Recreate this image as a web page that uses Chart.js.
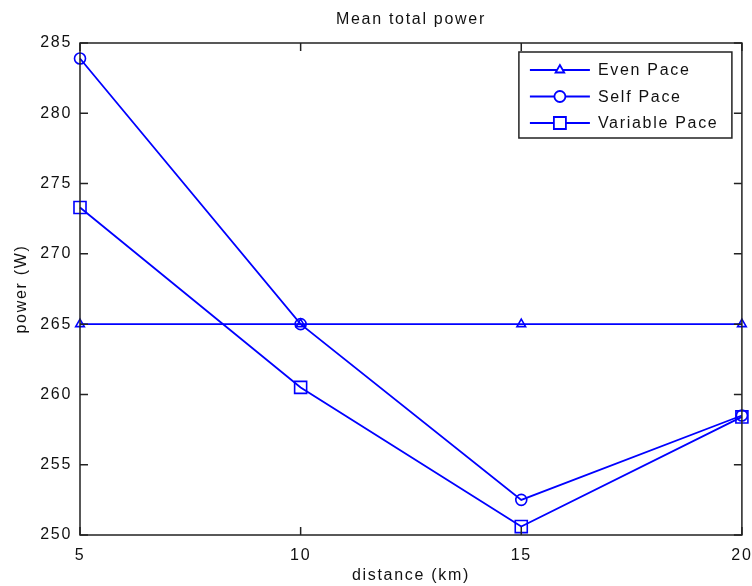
<!DOCTYPE html>
<html>
<head>
<meta charset="utf-8">
<script src="https://cdn.jsdelivr.net/npm/chart.js@4/dist/chart.umd.min.js"></script>
<style>
  html, body { margin: 0; padding: 0; background: #fff; }
  #wrap { width: 752px; height: 586px; }
</style>
</head>
<body>
<div id="wrap"><canvas id="powerChart" width="752" height="586"></canvas></div>
<script>
"use strict";

// distances (km)
const distances = [5, 10, 15, 20];

// mean total power (W) for each pacing strategy
const evenPace = [265, 265, 265, 265];
const selfPace = [283.9, 265, 252.5, 258.5];
const variablePace = [273.3, 260.5, 250.6, 258.4];

const seriesNames = ["Even Pace", "Self Pace", "Variable Pace"];
const yTicks = [250, 255, 260, 265, 270, 275, 280, 285];
const xTicks = [5, 10, 15, 20];
const chartTitle = "Mean total power";

const BLUE = "#0000FF";
const FONT = "'Liberation Sans', Arial, sans-serif";
const SPACING = "1.7px";

function toPoints(values) {
    return distances.map((d, i) => ({ x: d, y: values[i] }));
}

// the old MATLAB export has wide letter spacing
const wideText = {
    id: "wideText",
    beforeLayout(chart) { chart.ctx.letterSpacing = SPACING; },
    beforeDraw(chart) { chart.ctx.letterSpacing = SPACING; }
};

// MATLAB style box, inward ticks, title and boxed legend
const matlabFrame = {
    id: "matlabFrame",
    afterDatasetsDraw(chart) {
        const ctx = chart.ctx;
        const area = chart.chartArea;
        const xs = chart.scales.x;
        const ys = chart.scales.y;
        const tick = 8;

        ctx.save();
        ctx.letterSpacing = SPACING;
        ctx.strokeStyle = "#222";
        ctx.lineWidth = 1.5;
        ctx.strokeRect(area.left, area.top, area.right - area.left, area.bottom - area.top);

        ctx.beginPath();
        xTicks.forEach(v => {
            const px = xs.getPixelForValue(v);
            ctx.moveTo(px, area.bottom);
            ctx.lineTo(px, area.bottom - tick);
            ctx.moveTo(px, area.top);
            ctx.lineTo(px, area.top + tick);
        });
        yTicks.forEach(v => {
            const py = ys.getPixelForValue(v);
            ctx.moveTo(area.left, py);
            ctx.lineTo(area.left + tick, py);
            ctx.moveTo(area.right, py);
            ctx.lineTo(area.right - tick, py);
        });
        ctx.stroke();

        // title, centred over the axes
        ctx.font = "16px " + FONT;
        ctx.fillStyle = "#111";
        ctx.textAlign = "center";
        ctx.textBaseline = "middle";
        ctx.fillText(chartTitle, (area.left + area.right) / 2, 20);

        // legend box
        const boxW = 213;
        const boxH = 86;
        const bx = area.right - 10 - boxW;
        const by = area.top + 9;
        ctx.fillStyle = "#fff";
        ctx.fillRect(bx, by, boxW, boxH);
        ctx.strokeRect(bx, by, boxW, boxH);

        chart.data.datasets.forEach((ds, i) => {
            const rowY = by + 18 + i * 26.5;
            ctx.strokeStyle = ds.borderColor;
            ctx.lineWidth = ds.borderWidth;
            ctx.beginPath();
            ctx.moveTo(bx + 11, rowY);
            ctx.lineTo(bx + 71, rowY);
            ctx.stroke();
            ctx.fillStyle = "#fff";
            Chart.helpers.drawPoint(ctx, {
                pointStyle: ds.pointStyle,
                radius: ds.pointRadius,
                borderWidth: 1.5
            }, bx + 41, rowY);
            ctx.fillStyle = "#111";
            ctx.textAlign = "left";
            ctx.fillText(ds.label, bx + 79, rowY + 1);
        });
        ctx.restore();
    }
};

function makeDataset(label, values, style, radius) {
    return {
        label: label,
        data: toPoints(values),
        borderColor: BLUE,
        backgroundColor: "rgba(0,0,0,0)",
        borderWidth: 1.8,
        pointStyle: style,
        pointRadius: radius,
        pointBorderWidth: 1.6,
        pointBorderColor: BLUE,
        pointBackgroundColor: "rgba(0,0,0,0)",
        tension: 0,
        clip: false
    };
}

new Chart(document.getElementById("powerChart"), {
    type: "line",
    data: {
        datasets: [
            makeDataset(seriesNames[0], evenPace, "triangle", 5),
            makeDataset(seriesNames[1], selfPace, "circle", 5.5),
            makeDataset(seriesNames[2], variablePace, "rect", 8.5)
        ]
    },
    options: {
        responsive: false,
        animation: false,
        layout: { padding: { left: 0, right: 9, top: 43, bottom: 0 } },
        plugins: {
            legend: { display: false },
            tooltip: { enabled: false },
            title: { display: false }
        },
        scales: {
            x: {
                type: "linear",
                min: 5,
                max: 20,
                afterBuildTicks: s => { s.ticks = xTicks.map(v => ({ value: v })); },
                afterFit: s => { s.height = 51; s.paddingLeft = 0; s.paddingRight = 0; },
                grid: { display: false },
                border: { display: false },
                ticks: {
                    color: "#111",
                    padding: 3,
                    font: { family: FONT, size: 16 }
                },
                title: {
                    display: true,
                    text: "distance (km)",
                    color: "#111",
                    padding: { top: 0, bottom: 1 },
                    font: { family: FONT, size: 16 }
                }
            },
            y: {
                min: 250,
                max: 285,
                afterBuildTicks: s => { s.ticks = yTicks.map(v => ({ value: v })); },
                afterFit: s => { s.width = 80; s.paddingTop = 0; s.paddingBottom = 0; },
                grid: { display: false },
                border: { display: false },
                ticks: {
                    color: "#111",
                    padding: 0,
                    font: { family: FONT, size: 16 }
                },
                title: {
                    display: true,
                    text: "power (W)",
                    color: "#111",
                    padding: { top: 12, bottom: 0 },
                    font: { family: FONT, size: 16 }
                }
            }
        }
    },
    plugins: [wideText, matlabFrame]
});
</script>
</body>
</html>
